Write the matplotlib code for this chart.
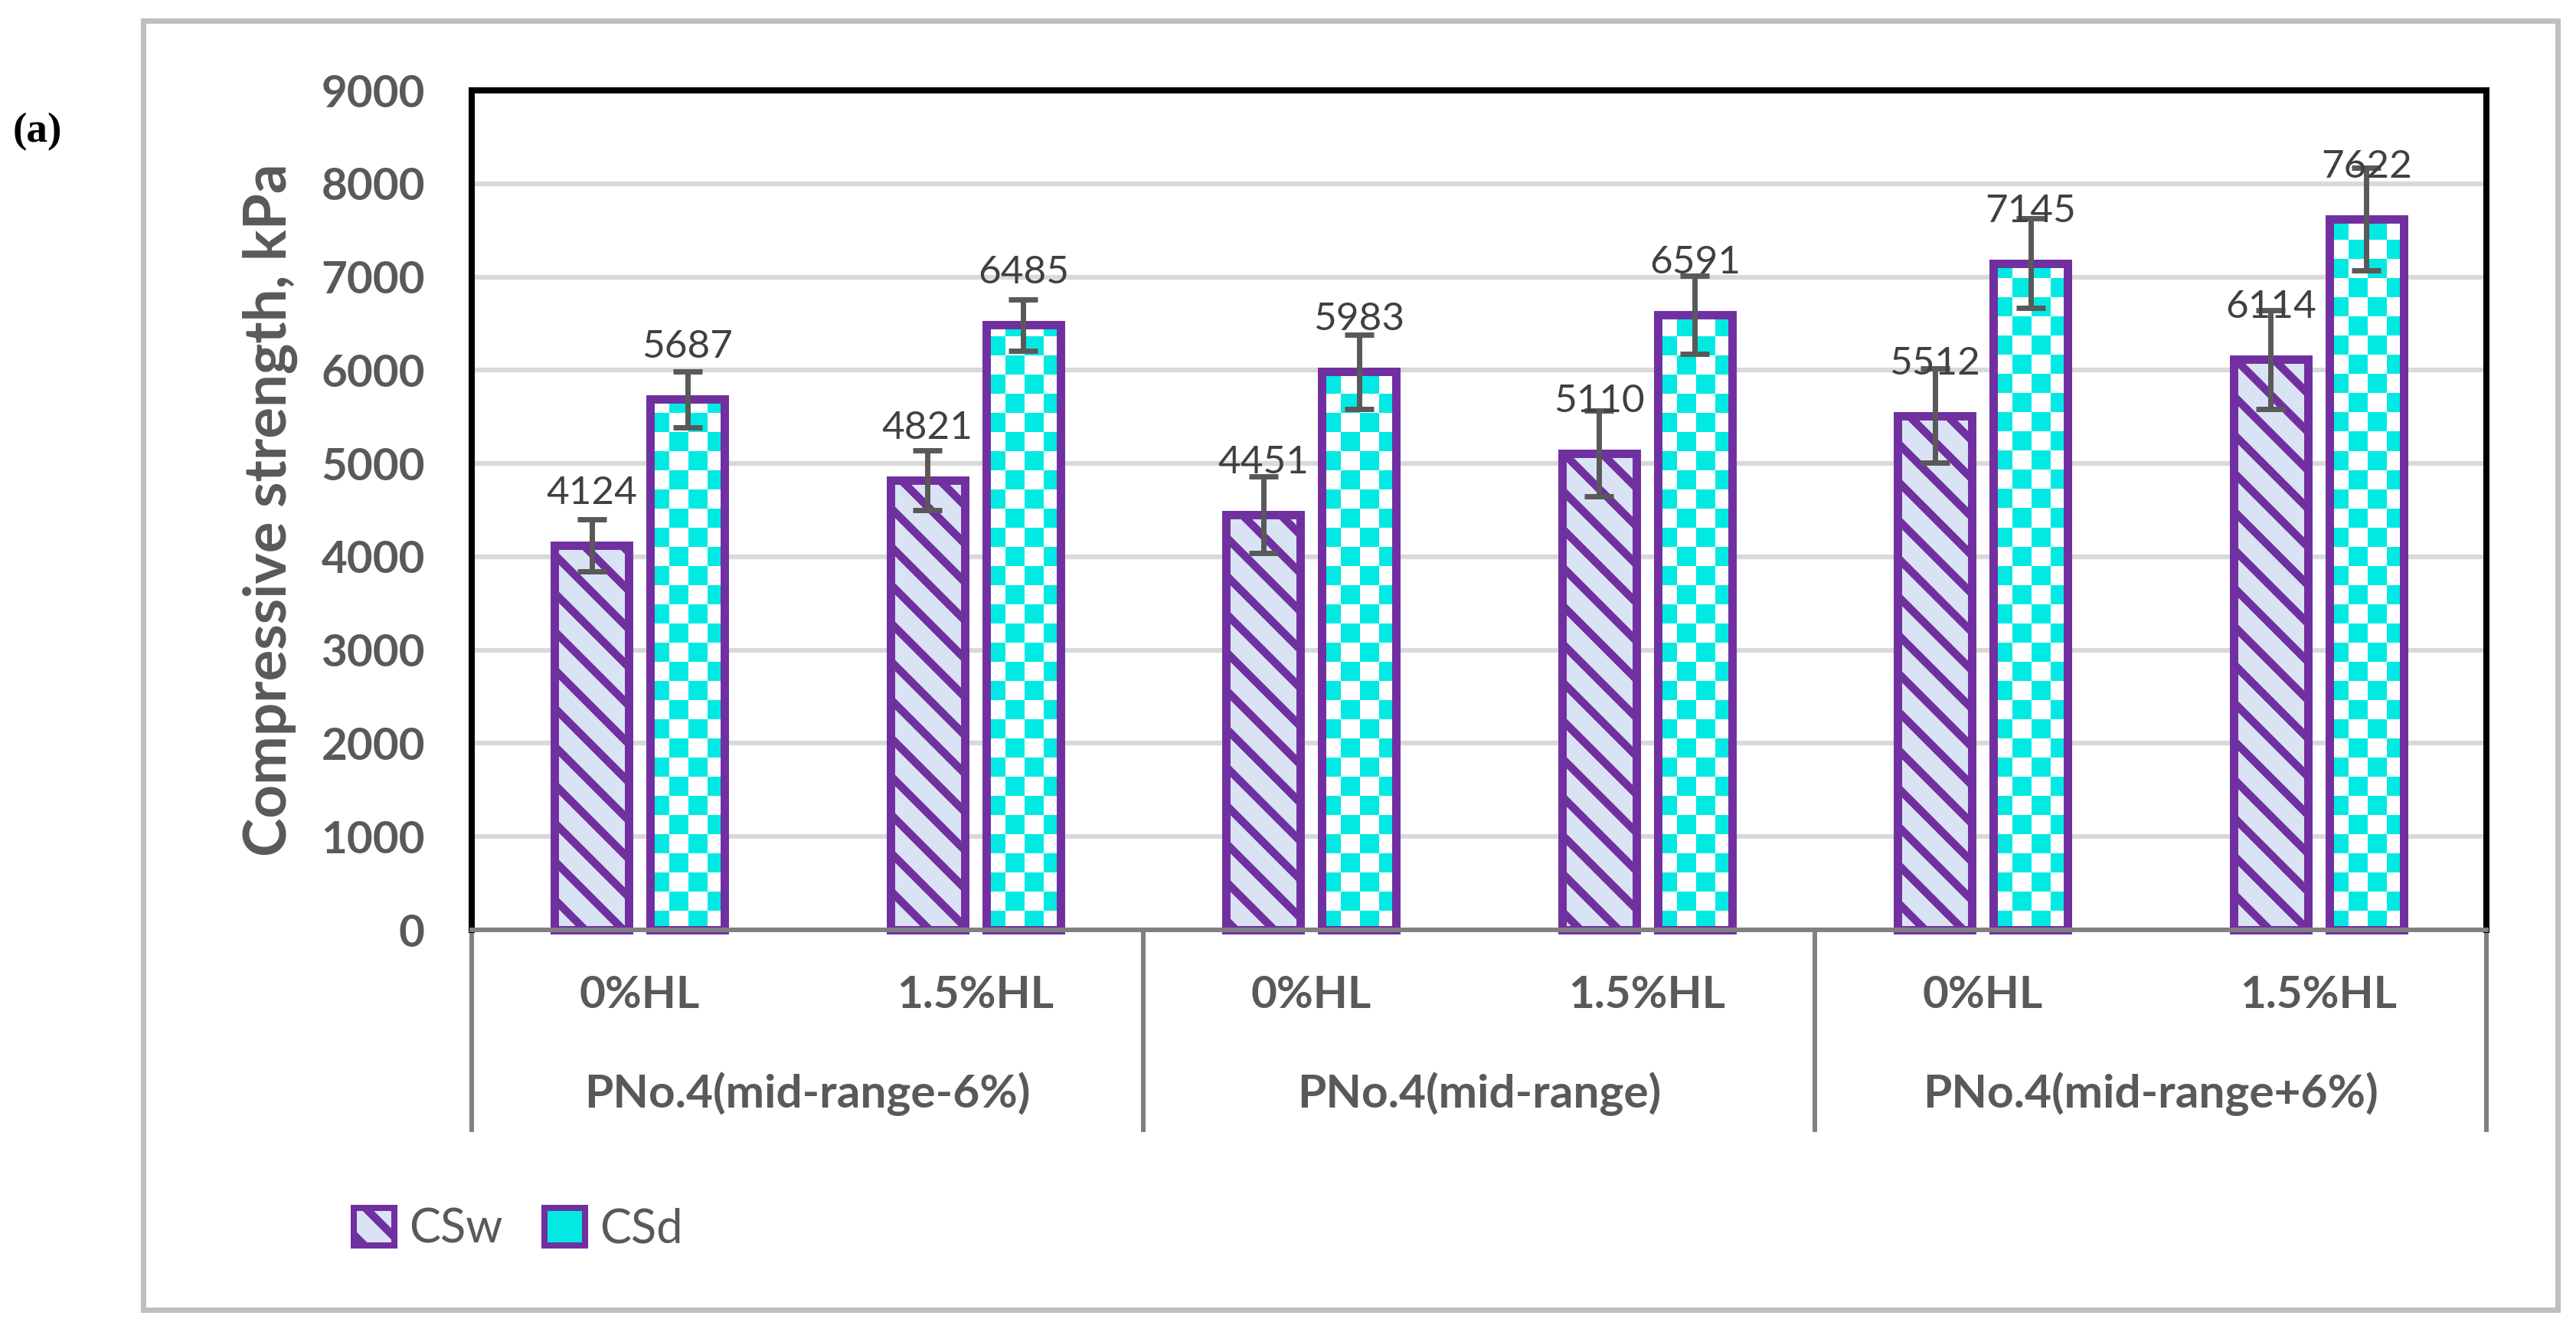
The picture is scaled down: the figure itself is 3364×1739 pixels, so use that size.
import numpy as np
import matplotlib
matplotlib.use("Agg")
import matplotlib.pyplot as plt
from matplotlib.colors import ListedColormap
from matplotlib.patches import Rectangle, Patch
from matplotlib.lines import Line2D
from matplotlib.transforms import blended_transform_factory

# data
groups = ["PNo.4(mid-range-6%)", "PNo.4(mid-range)", "PNo.4(mid-range+6%)"]
hl_levels = ["0%HL", "1.5%HL"]
series = ["CSw", "CSd"]
csw = [4124, 4821, 4451, 5110, 5512, 6114]
csd = [5687, 6485, 5983, 6591, 7145, 7622]
csw_err = [280, 320, 410, 460, 505, 530]
csd_err = [300, 277, 400, 418, 481, 549]
y_ticks = [0, 1000, 2000, 3000, 4000, 5000, 6000, 7000, 8000, 9000]

# dpi 300 so the hatch spacing comes out close to the excel stripes
W, H, DPI = 3364, 1739, 300
PURPLE = "#7030A0"
LAVENDER = "#DAE3F3"
CYAN = "#00EAE3"
GRID = "#D9D9D9"
AXIS_GRAY = "#808080"
TXT = "#595959"
LBL = "#404040"

plt.rcParams["font.family"] = ["Lato", "DejaVu Sans"]
plt.rcParams["hatch.linewidth"] = 2.5


def fx(px):
    return px / W


def fy(py):
    return 1 - py / H


fig = plt.figure(figsize=(W / DPI, H / DPI), dpi=DPI)
ax = fig.add_axes([fx(616), fy(1214), (3247 - 616) / W, (1214 - 118) / H])

x = np.arange(len(csw))
off = 0.1426
bw = 0.221

bars_w = ax.bar(x - off, csw, bw, facecolor=LAVENDER, edgecolor=PURPLE,
                linewidth=2.63, hatch="\\\\", zorder=3, clip_on=False)
bars_d = ax.bar(x + off, csd, bw, facecolor="none", edgecolor=PURPLE,
                linewidth=2.63, zorder=3, clip_on=False)

ax.errorbar(x - off, csw, yerr=csw_err, fmt="none", ecolor="#595959",
            elinewidth=1.67, capsize=4.57, capthick=1.67, zorder=4)
ax.errorbar(x + off, csd, yerr=csd_err, fmt="none", ecolor="#595959",
            elinewidth=1.67, capsize=4.57, capthick=1.67, zorder=4)

for xs, vals in [(x - off, csw), (x + off, csd)]:
    for xi, v in zip(xs, vals):
        ax.annotate(f"{v}", (xi, v), xytext=(0, 13), textcoords="offset points",
                    ha="center", va="baseline", fontsize=12.3, color=LBL, zorder=6)

ax.set_xlim(-0.5, 5.5)
ax.set_ylim(0, 9000)

# checkerboard fill for CSd bars
cell = 25
checker_cmap = ListedColormap([CYAN, "white"])
for rect in bars_d:
    x0, w, h = rect.get_x(), rect.get_width(), rect.get_height()
    (p0x, p0y), (p1x, p1y) = ax.transData.transform([(x0, 0), (x0 + w, h)])
    ncols = int(np.ceil((p1x - p0x) / cell))
    nrows = int(np.ceil((p1y - p0y) / cell))
    tile = np.indices((nrows, ncols)).sum(axis=0) % 2
    tx, ty = ax.transData.inverted().transform((p0x + ncols * cell, p0y + nrows * cell))
    img = ax.imshow(tile, cmap=checker_cmap, extent=(x0, tx, 0, ty), origin="lower",
                    interpolation="nearest", aspect="auto", zorder=2.9)
    img.set_clip_path(rect)

ax.set_xlim(-0.5, 5.5)
ax.set_ylim(0, 9000)

ax.set_yticks(y_ticks)
ax.set_yticklabels([str(t) for t in y_ticks], fontweight="bold")
ax.tick_params(axis="y", length=0, pad=14.7, labelsize=14, labelcolor=TXT)
ax.set_xticks([])
ax.yaxis.grid(True, color=GRID, linewidth=1.5)
ax.set_axisbelow(True)

for side in ["top", "left", "right"]:
    ax.spines[side].set_color("black")
    ax.spines[side].set_linewidth(1.93)
ax.spines["bottom"].set_color(AXIS_GRAY)
ax.spines["bottom"].set_linewidth(1.43)
for sp in ax.spines.values():
    sp.set_zorder(5)

# multi-level category axis
trans = blended_transform_factory(ax.transData, fig.transFigure)
for xi in x:
    ax.text(xi, fy(1300), hl_levels[xi % 2], transform=trans, ha="center", va="center",
            fontsize=14, fontweight="bold", color=TXT)
for gi, g in enumerate(groups):
    ax.text(2 * gi + 0.5, fy(1428), g, transform=trans, ha="center", va="center",
            fontsize=14.5, fontweight="bold", color=TXT)
for b in np.arange(-0.5, len(csw), 2):
    ax.add_line(Line2D([b, b], [fy(1214), fy(1475)], transform=trans,
                       color=AXIS_GRAY, lw=1.43, clip_on=False))

fig.text(fx(353), 0.5 * (fy(118) + fy(1214)), "Compressive strength, kPa", rotation=90,
         ha="center", va="center", fontsize=18.3, fontweight="bold", color=TXT)

fig.text(fx(17), fy(172), "(a)", family=["Liberation Serif", "DejaVu Serif"],
         fontweight="bold", fontsize=13.3, ha="left", va="center", color="black")

fig.add_artist(Rectangle((fx(187), fy(1710)), (3340 - 187) / W, (1710 - 27) / H,
                         transform=fig.transFigure, fill=False,
                         edgecolor="#BFBFBF", linewidth=1.67))

handles = [Patch(facecolor=LAVENDER, edgecolor=PURPLE, hatch="\\\\", linewidth=1.93),
           Patch(facecolor=CYAN, edgecolor=PURPLE, linewidth=1.93)]
fig.legend(handles, series, loc="center left", bbox_to_anchor=(fx(462), fy(1605)),
           ncol=2, frameon=False, fontsize=14.7, handlelength=0.87, handleheight=0.87,
           handletextpad=0.3, columnspacing=0.9, borderaxespad=0, borderpad=0,
           labelcolor=TXT)

fig.savefig("out.png", dpi=DPI)
